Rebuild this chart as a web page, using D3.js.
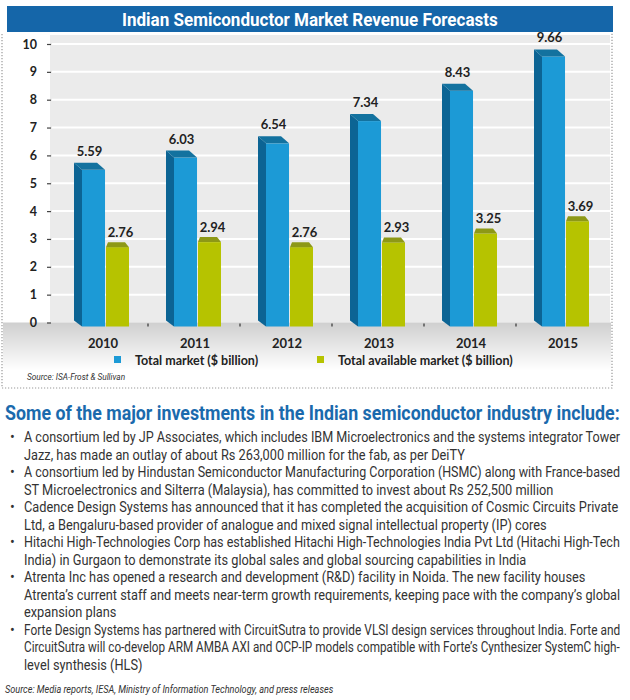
<!DOCTYPE html>
<html>
<head>
<meta charset="utf-8">
<script src="https://cdn.jsdelivr.net/npm/d3@7"></script>
<style>
  body { margin: 0; background: #fff; }
  svg { display: block; }
</style>
</head>
<body>
<div id="chart"></div>
<script>
// chart values
const years = ['2010', '2011', '2012', '2013', '2014', '2015'];
const totalMarket = [5.59, 6.03, 6.54, 7.34, 8.43, 9.66];
const availableMarket = [2.76, 2.94, 2.76, 2.93, 3.25, 3.69];
const yTicks = [0, 1, 2, 3, 4, 5, 6, 7, 8, 9, 10];
const seriesNames = ['Total market ($ billion)', 'Total available market ($ billion)'];

const chartTitle = 'Indian Semiconductor Market Revenue Forecasts';
const chartSource = 'Source: ISA-Frost & Sullivan';
const heading = 'Some of the major investments in the Indian semiconductor industry include:';
const bullets = [
  ['A consortium led by JP Associates, which includes IBM Microelectronics and the systems integrator Tower',
   'Jazz, has made an outlay of about Rs 263,000 million for the fab, as per DeiTY'],
  ['A consortium led by Hindustan Semiconductor Manufacturing Corporation (HSMC) along with France-based',
   'ST Microelectronics and Silterra (Malaysia), has committed to invest about Rs 252,500 million'],
  ['Cadence Design Systems has announced that it has completed the acquisition of Cosmic Circuits Private',
   'Ltd, a Bengaluru-based provider of analogue and mixed signal intellectual property (IP) cores'],
  ['Hitachi High-Technologies Corp has established Hitachi High-Technologies India Pvt Ltd (Hitachi High-Tech',
   'India) in Gurgaon to demonstrate its global sales and global sourcing capabilities in India'],
  ['Atrenta Inc has opened a research and development (R&D) facility in Noida. The new facility houses',
   'Atrenta\u2019s current staff and meets near-term growth requirements, keeping pace with the company\u2019s global',
   'expansion plans'],
  ['Forte Design Systems has partnered with CircuitSutra to provide VLSI design services throughout India. Forte and',
   'CircuitSutra will co-develop ARM AMBA AXI and OCP-IP models compatible with Forte\u2019s Cynthesizer SystemC high-',
   'level synthesis (HLS)']
];
const pageSource = 'Source: Media reports, IESA, Ministry of Information Technology, and press releases';

const width = 630, height = 700;
const blue = { front: '#1c9ad6', side: '#0c6494', top: '#13729f' };
const green = { front: '#b6c300', top: '#8d9816' };
const condensed = '"Liberation Sans Narrow", "Arial Narrow", "Roboto", sans-serif';
const labelFont = 'Lato, "Open Sans", sans-serif';
const narrow = 0.9; // horizontal squeeze, no narrow face installed
const textLeft = 24, textRight = 620;

const svg = d3.select('#chart').append('svg')
  .attr('width', width)
  .attr('height', height);

// squeeze a text sideways so it takes the given width
function fitWidth(sel, x0, y0, w) {
  const natural = sel.node().getComputedTextLength();
  sel.attr('transform', `translate(${x0},${y0}) scale(${w / natural},1)`);
}

const defs = svg.append('defs');
const floorGrad = defs.append('linearGradient')
  .attr('id', 'floor').attr('x1', 0).attr('y1', 0).attr('x2', 0).attr('y2', 1);
floorGrad.append('stop').attr('offset', '0%').attr('stop-color', '#cfcfcf');
floorGrad.append('stop').attr('offset', '100%').attr('stop-color', '#ffffff');

// scales
const x = d3.scaleBand().domain(years).range([56, 608]);
const y = d3.scaleLinear().domain([0, 10]).range([322.5, 44]);
const xs = d3.scaleBand().domain(['total', 'avail']).range([26, 73]).paddingInner(0.04);

// title bar
svg.append('rect')
  .attr('x', 7).attr('y', 6).attr('width', 606).attr('height', 26)
  .attr('fill', '#1566a9');
svg.append('text')
  .attr('font-family', condensed)
  .attr('font-weight', 'bold')
  .attr('font-size', 19)
  .attr('fill', '#fff')
  .text(chartTitle)
  .call(fitWidth, 122, 25.5, 376);

// wall + floor
svg.append('rect')
  .attr('x', 50).attr('y', 35).attr('width', 560).attr('height', y(0) - 35)
  .attr('fill', '#ebebeb');
svg.append('rect')
  .attr('x', 3).attr('y', y(0)).attr('width', 608).attr('height', 48)
  .attr('fill', 'url(#floor)');

// dotted frame
svg.append('path')
  .attr('d', 'M2,34 V388 H612 V33')
  .attr('fill', 'none')
  .attr('stroke', '#9a9a9a')
  .attr('stroke-width', 1.2)
  .attr('stroke-dasharray', '1.2,1.8');

// grid lines
svg.append('g')
  .selectAll('line')
  .data(yTicks.filter(d => d > 0))
  .join('line')
  .attr('x1', 52).attr('x2', 610)
  .attr('y1', d => y(d)).attr('y2', d => y(d))
  .attr('stroke', '#fff')
  .attr('stroke-width', 2);

// y axis
const yAxis = d3.axisLeft(y).tickValues(yTicks).tickSize(4).tickPadding(10);
const yG = svg.append('g')
  .attr('transform', 'translate(51,0)')
  .call(yAxis);
yG.select('.domain').remove();
yG.selectAll('line').attr('stroke', '#444').attr('stroke-width', 1.2);
yG.selectAll('text')
  .attr('font-family', labelFont)
  .attr('font-weight', 'bold')
  .attr('font-size', 12.5)
  .attr('fill', '#222');

// small category separators on floor
svg.append('g')
  .selectAll('line')
  .data(years.slice(1))
  .join('line')
  .attr('x1', d => x(d)).attr('x2', d => x(d))
  .attr('y1', y(0) + 1).attr('y2', y(0) + 4)
  .attr('stroke', '#333')
  .attr('stroke-width', 1.2);

// x labels
svg.append('g')
  .selectAll('text')
  .data(years)
  .join('text')
  .attr('x', d => x(d) + x.bandwidth() / 2 + 1)
  .attr('y', 348)
  .attr('text-anchor', 'middle')
  .attr('font-family', labelFont)
  .attr('font-weight', 'bold')
  .attr('font-size', 13)
  .attr('fill', '#222')
  .text(d => d);

const rows = years.map((year, i) => ({ year, total: totalMarket[i], avail: availableMarket[i] }));
const base = y(0) + 4;

// blue 3d bars
const dx = 8, dy = 7;
const blueBar = svg.append('g')
  .selectAll('g')
  .data(rows)
  .join('g');

blueBar.append('path')
  .attr('fill', blue.side)
  .attr('d', d => {
    const x0 = x(d.year) + xs('total');
    const top = y(d.total) + 3;
    return `M${x0},${top} L${x0 - dx},${top - dy} L${x0 - dx},${base - 6} L${x0},${base} Z`;
  });
blueBar.append('rect')
  .attr('fill', blue.front)
  .attr('x', d => x(d.year) + xs('total'))
  .attr('y', d => y(d.total) + 3)
  .attr('width', xs.bandwidth())
  .attr('height', d => base - y(d.total) - 3);
blueBar.append('path')
  .attr('fill', blue.top)
  .attr('d', d => {
    const x0 = x(d.year) + xs('total');
    const x1 = x0 + xs.bandwidth();
    const top = y(d.total) + 3;
    return `M${x0},${top} L${x0 - dx},${top - dy} L${x1 - dx},${top - dy} L${x1},${top} Z`;
  });
blueBar.append('text')
  .attr('x', d => x(d.year) + xs('total') + xs.bandwidth() / 2 - 4)
  .attr('y', d => y(d.total) - 11)
  .attr('text-anchor', 'middle')
  .attr('font-family', labelFont)
  .attr('font-weight', 'bold')
  .attr('font-size', 13)
  .attr('fill', '#222')
  .text(d => d.total.toFixed(2));

// green bars
const greenBar = svg.append('g')
  .selectAll('g')
  .data(rows)
  .join('g');

greenBar.append('rect')
  .attr('fill', green.front)
  .attr('x', d => x(d.year) + xs('avail'))
  .attr('y', d => y(d.avail) + 1.5)
  .attr('width', xs.bandwidth())
  .attr('height', d => base - y(d.avail) - 1.5);
greenBar.append('path')
  .attr('fill', green.top)
  .attr('d', d => {
    const x0 = x(d.year) + xs('avail');
    const x1 = x0 + xs.bandwidth();
    const top = y(d.avail) + 1.5;
    return `M${x0},${top} L${x0 + 2},${top - 5} L${x1 - 4},${top - 5} L${x1},${top} Z`;
  });
greenBar.append('text')
  .attr('x', d => x(d.year) + xs('avail') + xs.bandwidth() / 2 + 3)
  .attr('y', d => y(d.avail) - 9)
  .attr('text-anchor', 'middle')
  .attr('font-family', labelFont)
  .attr('font-weight', 'bold')
  .attr('font-size', 13)
  .attr('fill', '#222')
  .text(d => d.avail.toFixed(2));

// legend
const legendX = [114, 317];
const legend = svg.append('g')
  .selectAll('g')
  .data(seriesNames)
  .join('g')
  .attr('transform', (d, i) => `translate(${legendX[i]},356)`);
legend.append('rect')
  .attr('width', 7).attr('height', 7)
  .attr('fill', (d, i) => i === 0 ? blue.front : green.front);
legend.append('text')
  .attr('x', 21).attr('y', 9)
  .attr('font-family', labelFont)
  .attr('font-weight', 'bold')
  .attr('font-size', 12.5)
  .attr('fill', '#222')
  .text(d => d);

svg.append('text')
  .attr('transform', `translate(27,380) scale(0.87,1)`)
  .attr('font-family', condensed)
  .attr('font-style', 'italic')
  .attr('font-size', 9.5)
  .attr('fill', '#333')
  .text(chartSource);

// text block below the chart
svg.append('text')
  .attr('font-family', condensed)
  .attr('font-weight', 'bold')
  .attr('font-size', 21)
  .attr('fill', '#1a6aad')
  .text(heading)
  .call(fitWidth, 5, 420, 615);

const lineH = 17.5;
let lineNo = 0;
const body = svg.append('g')
  .attr('font-family', condensed)
  .attr('font-size', 14.2)
  .attr('fill', '#333');
bullets.forEach(lines => {
  body.append('text')
    .attr('x', 10).attr('y', 442 + lineNo * lineH)
    .text('\u2022');
  lines.forEach(line => {
    const t = body.append('text').text(line);
    // squeeze, and squeeze a bit more if the line would run past the column
    const w = t.node().getComputedTextLength();
    const k = Math.min(narrow, (textRight - textLeft) / w);
    t.attr('transform', `translate(${textLeft},${442 + lineNo * lineH}) scale(${k},1)`);
    lineNo++;
  });
});

svg.append('text')
  .attr('transform', `translate(5,693) scale(0.87,1)`)
  .attr('font-family', condensed)
  .attr('font-style', 'italic')
  .attr('font-size', 10.5)
  .attr('fill', '#333')
  .text(pageSource);
</script>
</body>
</html>
